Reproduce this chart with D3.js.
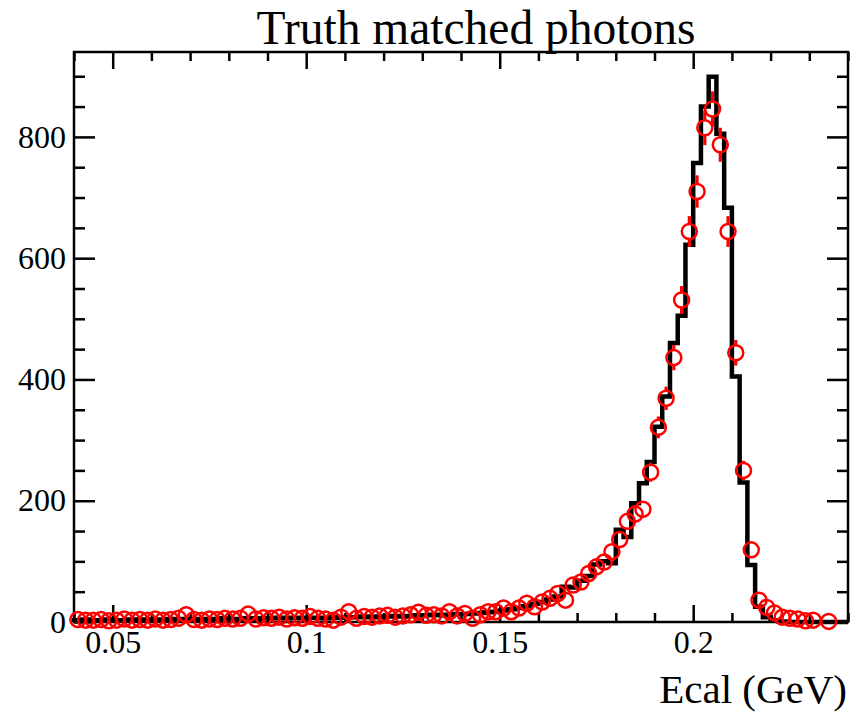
<!DOCTYPE html>
<html>
<head>
<meta charset="utf-8">
<script src="https://cdn.jsdelivr.net/npm/d3@7"></script>
<style>
  body { margin: 0; background: #fff; }
  svg { display: block; }
  text { font-family: "Liberation Serif", "Times New Roman", serif; fill: #000; }
</style>
</head>
<body>
<script>
// Histogram binning: 100 bins from 0.04 to 0.24 GeV
var xMin = 0.04,
    xMax = 0.24,
    nBins = 100,
    yMax = 940;

// Black histogram contents (one per bin)
var histCounts = [
    3, 4, 2, 3, 4, 3, 3, 4, 3, 4,
    4, 4, 5, 4, 5, 4, 5, 5, 4, 6,
    5, 5, 6, 5, 6, 6, 7, 6, 7, 6,
    7, 7, 6, 8, 7, 8, 8, 9, 8, 9,
    9, 10, 9, 10, 11, 11, 12, 11, 12, 13,
    13, 14, 15, 16, 17, 19, 21, 23, 26, 30,
    33, 37, 42, 58, 57, 68, 76, 95, 100, 97,
    152, 140, 196, 229, 264, 322, 372, 460, 505, 622,
    757, 850, 899, 805, 683, 405, 230, 94, 25, 8,
    3, 1, 0, 0, 0, 0, 0, 0, 0, 0
];

// Red points (truth matched photons), null = empty bin
var pointCounts = [
    4, 3, 3, 4, 2, 3, 5, 3, 4, 3,
    5, 3, 4, 6, 12, 4, 3, 5, 4, 6,
    5, 6, 13, 5, 7, 6, 8, 5, 7, 6,
    9, 6, 5, 3, 8, 17, 6, 9, 8, 10,
    11, 8, 10, 12, 16, 11, 12, 10, 17, 10,
    14, 6, 12, 17, 17, 23, 17, 23, 31, 25,
    33, 39, 47, 36, 61, 66, 80, 91, 99, 116,
    136, 166, 178, 186, 247, 321, 369, 436, 531, 644,
    710, 815, 846, 787, 644, 444, 250, 119, 36, 24,
    15, 8, 6, 5, 2, 3, null, 1, null, null
];

var xTickValues = [0.05, 0.1, 0.15, 0.2];
var yTickValues = [0, 200, 400, 600, 800];
var titleText = "Truth matched photons";
var xAxisTitle = "Ecal (GeV)";

var margin = {top: 52, right: 5, bottom: 91, left: 74},
    width = 853 - margin.left - margin.right,
    height = 713 - margin.top - margin.bottom;

var svg = d3.select("body")
            .append("svg")
            .attr("width", 853)
            .attr("height", 713);

var g = svg.append("g")
           .attr("transform", "translate(" + margin.left + "," + margin.top + ")");

var xScale = d3.scaleLinear().domain([xMin, xMax]).range([0, width]);
var yScale = d3.scaleLinear().domain([0, yMax]).range([height, 0]);

var binWidth = (xMax - xMin) / nBins;
var bins = histCounts.map(function(d, i) {
    return {lo: xMin + i * binWidth, hi: xMin + (i + 1) * binWidth,
            hist: d, pt: pointCounts[i]};
});

// Minor tick values
var xMinor = d3.range(0, 21).map(function(i) { return +(xMin + i * 0.01).toFixed(3); })
               .filter(function(v) { return xTickValues.indexOf(v) < 0; });
var yMinor = d3.range(0, yMax + 1, 50).filter(function(v) { return v % 200 !== 0; });

function styleAxis(sel) {
    sel.select(".domain").remove();
    sel.selectAll("line").attr("stroke", "#000").attr("stroke-width", 2.5);
    sel.selectAll("text")
       .attr("font-family", "Liberation Serif, serif")
       .attr("font-size", 32)
       .attr("fill", "#000");
}

// Bottom axis (ticks point inward)
g.append("g")
 .attr("transform", "translate(0," + height + ")")
 .call(d3.axisBottom(xScale).tickValues(xTickValues).tickSize(-17).tickPadding(8)
         .tickFormat(function(d) { return String(d); }))
 .call(styleAxis);
g.append("g")
 .attr("transform", "translate(0," + height + ")")
 .call(d3.axisBottom(xScale).tickValues(xMinor).tickSize(-9).tickFormat(""))
 .call(styleAxis);

// Top axis
g.append("g")
 .call(d3.axisTop(xScale).tickValues(xTickValues).tickSize(-17).tickFormat(""))
 .call(styleAxis);
g.append("g")
 .call(d3.axisTop(xScale).tickValues(xMinor).tickSize(-9).tickFormat(""))
 .call(styleAxis);

// Left axis
g.append("g")
 .call(d3.axisLeft(yScale).tickValues(yTickValues).tickSize(-21).tickPadding(8))
 .call(styleAxis);
g.append("g")
 .call(d3.axisLeft(yScale).tickValues(yMinor).tickSize(-11).tickFormat(""))
 .call(styleAxis);

// Right axis
g.append("g")
 .attr("transform", "translate(" + width + ",0)")
 .call(d3.axisRight(yScale).tickValues(yTickValues).tickSize(-21).tickFormat(""))
 .call(styleAxis);
g.append("g")
 .attr("transform", "translate(" + width + ",0)")
 .call(d3.axisRight(yScale).tickValues(yMinor).tickSize(-11).tickFormat(""))
 .call(styleAxis);

// Frame
g.append("rect")
 .attr("x", 0)
 .attr("y", 0)
 .attr("width", width)
 .attr("height", height)
 .attr("fill", "none")
 .attr("stroke", "#000")
 .attr("stroke-width", 2.5);

// Histogram outline as a step path
var path = d3.path();
path.moveTo(xScale(bins[0].lo), yScale(0));
bins.forEach(function(b) {
    path.lineTo(xScale(b.lo), yScale(b.hist));
    path.lineTo(xScale(b.hi), yScale(b.hist));
});
path.lineTo(xScale(bins[bins.length - 1].hi), yScale(0));

g.append("path")
 .attr("d", path.toString())
 .attr("fill", "none")
 .attr("stroke", "#000")
 .attr("stroke-width", 4.5)
 .attr("stroke-linejoin", "miter");

// Data points with sqrt(N) error bars, drawn outside the marker
var markerR = 7.5;
var pts = bins.filter(function(b) { return b.pt !== null; });

var errG = g.append("g").attr("stroke", "#ff0000").attr("stroke-width", 3.2);
pts.forEach(function(b) {
    var cx = xScale((b.lo + b.hi) / 2),
        cy = yScale(b.pt),
        err = Math.sqrt(b.pt),
        yTop = yScale(b.pt + err),
        yBot = yScale(Math.max(0, b.pt - err));
    if (yTop < cy - markerR) {
        errG.append("line").attr("x1", cx).attr("x2", cx)
            .attr("y1", yTop).attr("y2", cy - markerR);
    }
    if (yBot > cy + markerR) {
        errG.append("line").attr("x1", cx).attr("x2", cx)
            .attr("y1", cy + markerR).attr("y2", yBot);
    }
});

g.selectAll("circle.pt")
 .data(pts)
 .enter()
 .append("circle")
 .attr("class", "pt")
 .attr("cx", function(b) { return xScale((b.lo + b.hi) / 2); })
 .attr("cy", function(b) { return yScale(b.pt); })
 .attr("r", markerR)
 .attr("fill", "none")
 .attr("stroke", "#ff0000")
 .attr("stroke-width", 2.5);

// Titles
svg.append("text")
   .attr("x", 476)
   .attr("y", 44)
   .attr("text-anchor", "middle")
   .attr("font-size", 47.5)
   .text(titleText);

svg.append("text")
   .attr("x", 847)
   .attr("y", 703)
   .attr("text-anchor", "end")
   .attr("font-size", 41)
   .text(xAxisTitle);
</script>
</body>
</html>
